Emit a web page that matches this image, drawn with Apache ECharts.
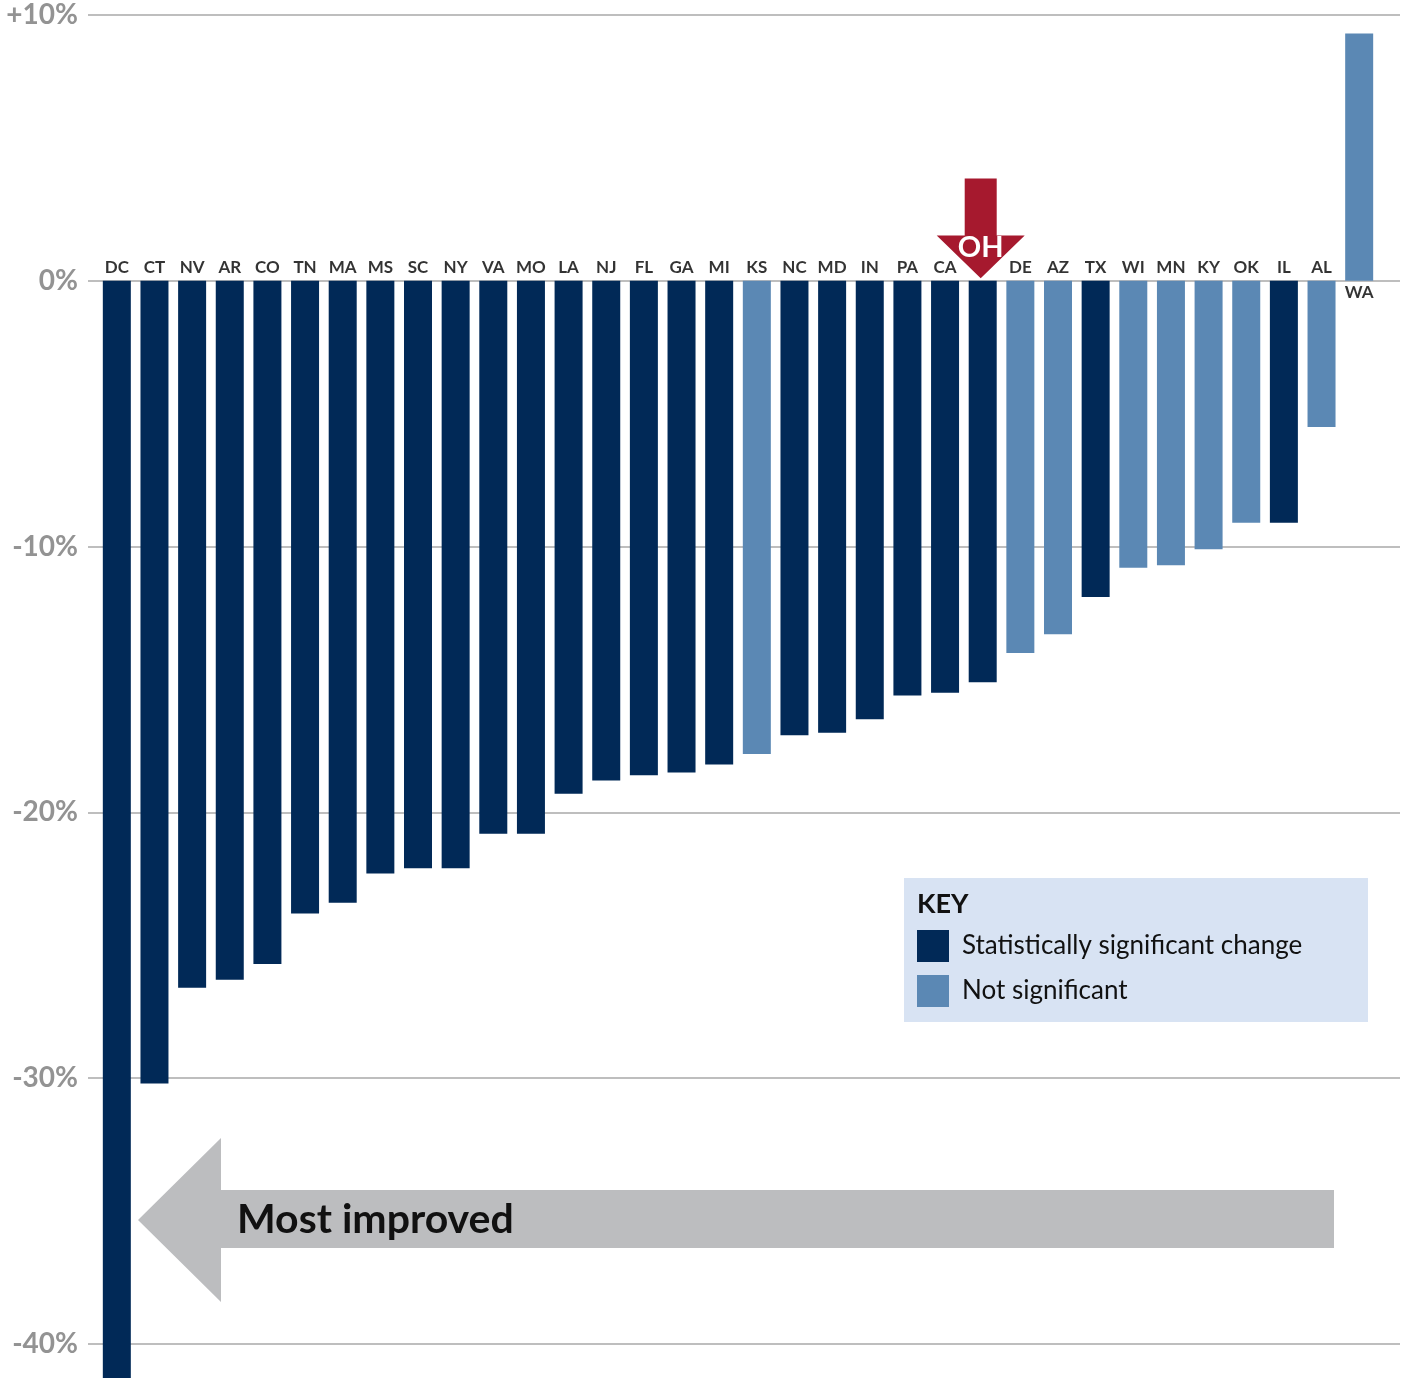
<!DOCTYPE html>
<html>
<head>
<meta charset="utf-8">
<style>
html,body{margin:0;padding:0;background:#fff;}
#chart{width:1409px;height:1378px;}
</style>
<script src="https://cdn.jsdelivr.net/npm/echarts@6/dist/echarts.min.js"></script>
</head>
<body>
<div id="chart"></div>
<script>
const states = ['DC','CT','NV','AR','CO','TN','MA','MS','SC','NY','VA','MO','LA','NJ','FL','GA','MI','KS','NC','MD','IN','PA','CA','OH','DE','AZ','TX','WI','MN','KY','OK','IL','AL','WA'];
const changes = [-41.5,-30.2,-26.6,-26.3,-25.7,-23.8,-23.4,-22.3,-22.1,-22.1,-20.8,-20.8,-19.3,-18.8,-18.6,-18.5,-18.2,-17.8,-17.1,-17.0,-16.5,-15.6,-15.5,-15.1,-14.0,-13.3,-11.9,-10.8,-10.7,-10.1,-9.1,-9.1,-5.5,9.3];
const significant = [1,1,1,1,1,1,1,1,1,1,1,1,1,1,1,1,1,0,1,1,1,1,1,1,0,0,1,0,0,0,0,1,0,0];
const yTicks = [10,0,-10,-20,-30,-40];
const highlight = 'OH';
const sigName = 'Statistically significant change';
const nsName = 'Not significant';

const DARK = '#012957';
const LIGHT = '#5b88b4';
const RED = '#a6192e';
const FONT = 'Lato';

const sigData = changes.map((v,i)=> significant[i] ? v : null);
const nsData = changes.map((v,i)=> significant[i] ? null : v);
const labelData = states.map((s,i)=>({
  value:[i,0],
  label:{
    show: s !== highlight,
    position: changes[i] >= 0 ? 'bottom' : 'top',
    distance: changes[i] >= 0 ? 3 : 4
  }
}));
const hiIdx = states.indexOf(highlight);
// arrow annotation values (in %): shaft top, head base, tip
const arrowData = [[hiIdx, 3.85, 1.7, 0.1]];

const chart = echarts.init(document.getElementById('chart'), null, {renderer:'canvas'});
chart.setOption({
  animation:false,
  backgroundColor:'#fff',
  grid:[
    {left:98, right:31, top:15, bottom:34},
    {left:88, right:9, top:15, bottom:34}
  ],
  xAxis:[
    {type:'category', gridIndex:0, data:states, show:false},
    {type:'value', gridIndex:1, show:false, min:0, max:1}
  ],
  yAxis:[
    {type:'value', gridIndex:0, min:-40, max:10, interval:10, show:false},
    {type:'value', gridIndex:1, min:-40, max:10, interval:10,
      axisLine:{show:false}, axisTick:{show:false},
      splitLine:{show:true, lineStyle:{color:'#a9a9a9', width:1.5}},
      axisLabel:{margin:10, color:'#939393', fontSize:28, fontWeight:'bold', fontFamily:FONT,
        formatter:v=> (v>0?'+':'')+v+'%'}
    }
  ],
  legend:{
    orient:'vertical', left:917, top:930, padding:0, itemWidth:32, itemHeight:32, itemGap:13,
    icon:'rect', selectedMode:false,
    data:[sigName, nsName],
    textStyle:{fontSize:26, color:'#111', fontFamily:FONT, padding:[3,0,0,8]}
  },
  graphic:[
    {type:'rect', left:904, top:878, shape:{width:464, height:144}, style:{fill:'#d8e3f3'}, z:-10},
    {type:'text', left:917, top:891, style:{text:'KEY', fontSize:27, fontWeight:'bold', fontFamily:FONT, fill:'#111'}},
    {type:'polygon', shape:{points:[[138,1220],[221,1138],[221,1190],[1334,1190],[1334,1248],[221,1248],[221,1302]]}, style:{fill:'#bcbdbf'}},
    {type:'text', left:237, top:1199, style:{text:'Most improved', fontSize:41, fontWeight:'bold', fontFamily:FONT, fill:'#111'}}
  ],
  series:[
    {name:sigName, type:'bar', stack:'s', xAxisIndex:0, yAxisIndex:0, data:sigData, barWidth:28, clip:false,
      itemStyle:{color:DARK}},
    {name:nsName, type:'bar', stack:'s', xAxisIndex:0, yAxisIndex:0, data:nsData, barWidth:28, clip:false,
      itemStyle:{color:LIGHT}},
    {type:'scatter', xAxisIndex:0, yAxisIndex:0, data:labelData, symbolSize:1, silent:true,
      itemStyle:{color:'rgba(0,0,0,0)'},
      label:{formatter:p=>states[p.value[0]], fontSize:17, fontWeight:'bold', fontFamily:FONT, color:'#000'}},
    {type:'custom', xAxisIndex:0, yAxisIndex:0, data:arrowData, z:5, silent:true,
      renderItem:(params, api)=>{
        const x = api.value(0);
        const top = api.coord([x, api.value(1)]);
        const base = api.coord([x, api.value(2)]);
        const tip = api.coord([x, api.value(3)]);
        const cx = tip[0] - 2;
        const sw = 16, hw = 44;
        return {type:'group', children:[
          {type:'polygon', shape:{points:[[cx-sw,top[1]],[cx+sw,top[1]],[cx+sw,base[1]],[cx+hw,base[1]],[cx,tip[1]],[cx-hw,base[1]],[cx-sw,base[1]]]},
            style:{fill:RED}},
          {type:'text', x:cx, y:base[1]+12, style:{text:api.value(0)===hiIdx?highlight:'', fontSize:29, fontWeight:'bold', fontFamily:FONT, fill:'#fff', align:'center', verticalAlign:'middle'}}
        ]};
      }}
  ]
});
</script>
</body>
</html>
